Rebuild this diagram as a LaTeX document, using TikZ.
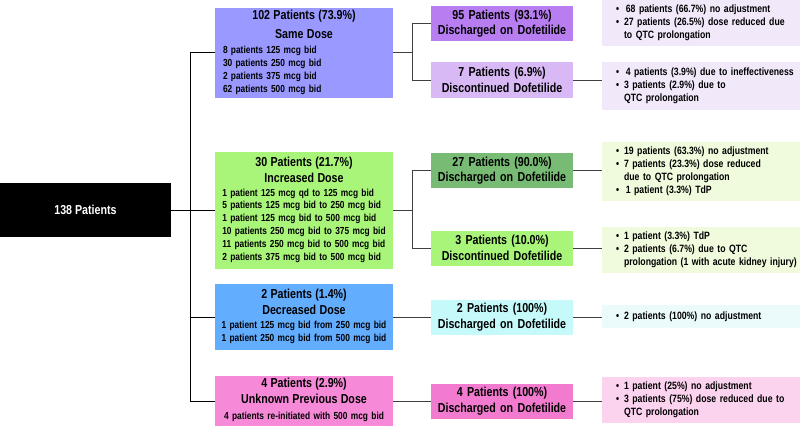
\documentclass[tikz,border=0pt]{standalone}
\usepackage{fontspec}
\setmainfont{Liberation Sans}[FakeStretch=0.82]
\usepackage{xcolor}
\usetikzlibrary{positioning, calc}
\setlength{\parindent}{0pt}

\definecolor{samec}{HTML}{9999FF}
\definecolor{samedisc}{HTML}{B87DF0}
\definecolor{samestopc}{HTML}{D9B9F5}
\definecolor{samenotec}{HTML}{F1E8FA}
\definecolor{incrc}{HTML}{A8F57A}
\definecolor{incrdisc}{HTML}{78BB74}
\definecolor{incrnotec}{HTML}{F0FADC}
\definecolor{decrc}{HTML}{63ADFF}
\definecolor{decrdisc}{HTML}{C6FAFA}
\definecolor{decrnotec}{HTML}{EBFAFA}
\definecolor{unkc}{HTML}{F78AD8}
\definecolor{unkdisc}{HTML}{F27ACF}
\definecolor{unknotec}{HTML}{FCD3EF}

\newcommand{\titlesize}{\fontsize{13}{15.6}\selectfont}
\newcommand{\bodysize}{\fontsize{10.2}{12.8}\selectfont}
\newcommand{\notesize}{\fontsize{10.6}{13.2}\selectfont}

\begin{document}
\begin{tikzpicture}[
    x=1pt, y=-1pt,
    dosebox/.style={rectangle, inner xsep=4pt, inner ysep=2pt, text width=170pt,
                    minimum width=178pt, font=\bfseries},
    outbox/.style={rectangle, inner xsep=4pt, inner ysep=2pt, text width=134pt,
                   align=center, minimum height=35pt, font=\bfseries\titlesize},
    notebox/.style={rectangle, inner xsep=2pt, inner ysep=2pt, text width=194pt,
                    align=left, font=\bfseries\notesize},
    link/.style={line width=1pt},
    sublink/.style={line width=1pt, black!75}
]
\useasboundingbox (0,0) rectangle (800,428);

\node[fill=black, text=white, minimum width=171pt, minimum height=54pt,
      font=\bfseries\titlesize] (root) at (85.5,210) {138 Patients};

% dose groups
\node[dosebox, fill=samec, minimum height=90pt, align=left] (same) at (304,53)
  {\vspace*{4pt}{\centering\titlesize 102 Patients (73.9\%)\\ Same Dose\par}\vspace{5pt}
   {\bodysize\hspace*{4pt}\begin{tabular}{@{}l@{}}8 patients 125 mcg bid\\ 30 patients 250 mcg bid\\
    2 patients 375 mcg bid\\ 62 patients 500 mcg bid\end{tabular}\par}};
\node[dosebox, fill=incrc, minimum height=117pt, align=center] (incr) at (304,210.5)
  {{\titlesize 30 Patients (21.7\%)\\ Increased Dose\par}\vspace{4pt}
   {\bodysize\begin{tabular}{@{}l@{}}1 patient 125 mcg qd to 125 mcg bid\\
    5 patients 125 mcg bid to 250 mcg bid\\ 1 patient 125 mcg bid to 500 mcg bid\\
    10 patients 250 mcg bid to 375 mcg bid\\ 11 patients 250 mcg bid to 500 mcg bid\\
    2 patients 375 mcg bid to 500 mcg bid\end{tabular}\par}};
\node[dosebox, fill=decrc, minimum height=66pt, align=center] (decr) at (304,317)
  {{\titlesize 2 Patients (1.4\%)\\ Decreased Dose\par}\vspace{4pt}
   {\bodysize\begin{tabular}{@{}c@{}}1 patient 125 mcg bid from 250 mcg bid\\
    1 patient 250 mcg bid from 500 mcg bid\end{tabular}\par}};
\node[dosebox, fill=unkc, minimum height=50pt, align=center] (unk) at (304,401)
  {{\titlesize 4 Patients (2.9\%)\\ Unknown Previous Dose\par}\vspace{3.5pt}
   {\bodysize\begin{tabular}{@{}c@{}}4 patients re-initiated with 500 mcg bid\end{tabular}\par}};

% outcomes
\node[outbox, fill=samedisc] (d1) at (502,23.5) {95 Patients (93.1\%)\\ Discharged on Dofetilide};
\node[outbox, fill=samestopc] (d2) at (502,80) {7 Patients (6.9\%)\\ Discontinued Dofetilide};
\node[outbox, fill=incrdisc] (d3) at (502,170.5) {27 Patients (90.0\%)\\ Discharged on Dofetilide};
\node[outbox, fill=incrc] (d4) at (502,248) {3 Patients (10.0\%)\\ Discontinued Dofetilide};
\node[outbox, fill=decrdisc] (d5) at (502,317) {2 Patients (100\%)\\ Discharged on Dofetilide};
\node[outbox, fill=unkdisc] (d6) at (502,401) {4 Patients (100\%)\\ Discharged on Dofetilide};

% notes
\node[notebox, fill=samenotec, minimum height=46pt] (n1) at (701,23)
  {\begin{tabular}{@{\hspace{12pt}}l@{\hspace{5pt}}l@{}}
   \textbullet & \,68 patients (66.7\%) no adjustment\\
   \textbullet & 27 patients (26.5\%) dose reduced due\\
   & to QTC prolongation\end{tabular}};
\node[notebox, fill=samenotec, minimum height=48pt] (n2) at (701,86)
  {\begin{tabular}{@{\hspace{12pt}}l@{\hspace{5pt}}l@{}}
   \textbullet & \,4 patients (3.9\%) due to ineffectiveness\\
   \textbullet & 3 patients (2.9\%) due to\\
   & QTC prolongation\end{tabular}};
\node[notebox, fill=incrnotec, minimum height=59pt] (n3) at (701,171.5)
  {\begin{tabular}{@{\hspace{12pt}}l@{\hspace{5pt}}l@{}}
   \textbullet & 19 patients (63.3\%) no adjustment\\
   \textbullet & 7 patients (23.3\%) dose reduced\\
   & due to QTC prolongation\\
   \textbullet & \,1 patient (3.3\%) TdP\end{tabular}};
\node[notebox, fill=incrnotec, minimum height=46pt] (n4) at (701,250)
  {\begin{tabular}{@{\hspace{12pt}}l@{\hspace{5pt}}l@{}}
   \textbullet & 1 patient (3.3\%) TdP\\
   \textbullet & 2 patients (6.7\%) due to QTC\\
   & prolongation (1 with acute kidney injury)\end{tabular}};
\node[notebox, fill=decrnotec, minimum height=23pt] (n5) at (701,316.5)
  {\begin{tabular}{@{\hspace{12pt}}l@{\hspace{5pt}}l@{}}
   \textbullet & 2 patients (100\%) no adjustment\end{tabular}};
\node[notebox, fill=unknotec, minimum height=46pt] (n6) at (701,400)
  {\begin{tabular}{@{\hspace{12pt}}l@{\hspace{5pt}}l@{}}
   \textbullet & 1 patient (25\%) no adjustment\\
   \textbullet & 3 patients (75\%) dose reduced due to\\
   & QTC prolongation\end{tabular}};

% connectors
\coordinate (trunk) at (190,210);
\coordinate (fork) at (412,210);
\draw[link] (root.east) -- (root.east -| incr.west);
\draw[link] (same.west) -- (same.west -| trunk) -- (unk.west -| trunk) -- (unk.west);
\draw[link] (decr.west) -- (decr.west -| trunk);

\draw[sublink] (same.east) -- (same.east -| fork);
\draw[sublink] (d1.west) -- (d1.west -| fork) -- (d2.west -| fork) -- (d2.west);
\draw[sublink] (incr.east) -- (incr.east -| fork);
\draw[sublink] (d3.west) -- (d3.west -| fork) -- (d4.west -| fork) -- (d4.west);
\draw[sublink] (decr.east) -- (decr.east -| d5.west);
\draw[sublink] (unk.east) -- (unk.east -| d6.west);

\draw[sublink] (d2.east) -- (d2.east -| n2.west);
\draw[sublink] (d3.east) -- (d3.east -| n3.west);
\draw[sublink] (d4.east) -- (d4.east -| n4.west);
\draw[sublink] (d5.east) -- (d5.east -| n5.west);
\draw[sublink] (d6.east) -- (d6.east -| n6.west);
\end{tikzpicture}
\end{document}
